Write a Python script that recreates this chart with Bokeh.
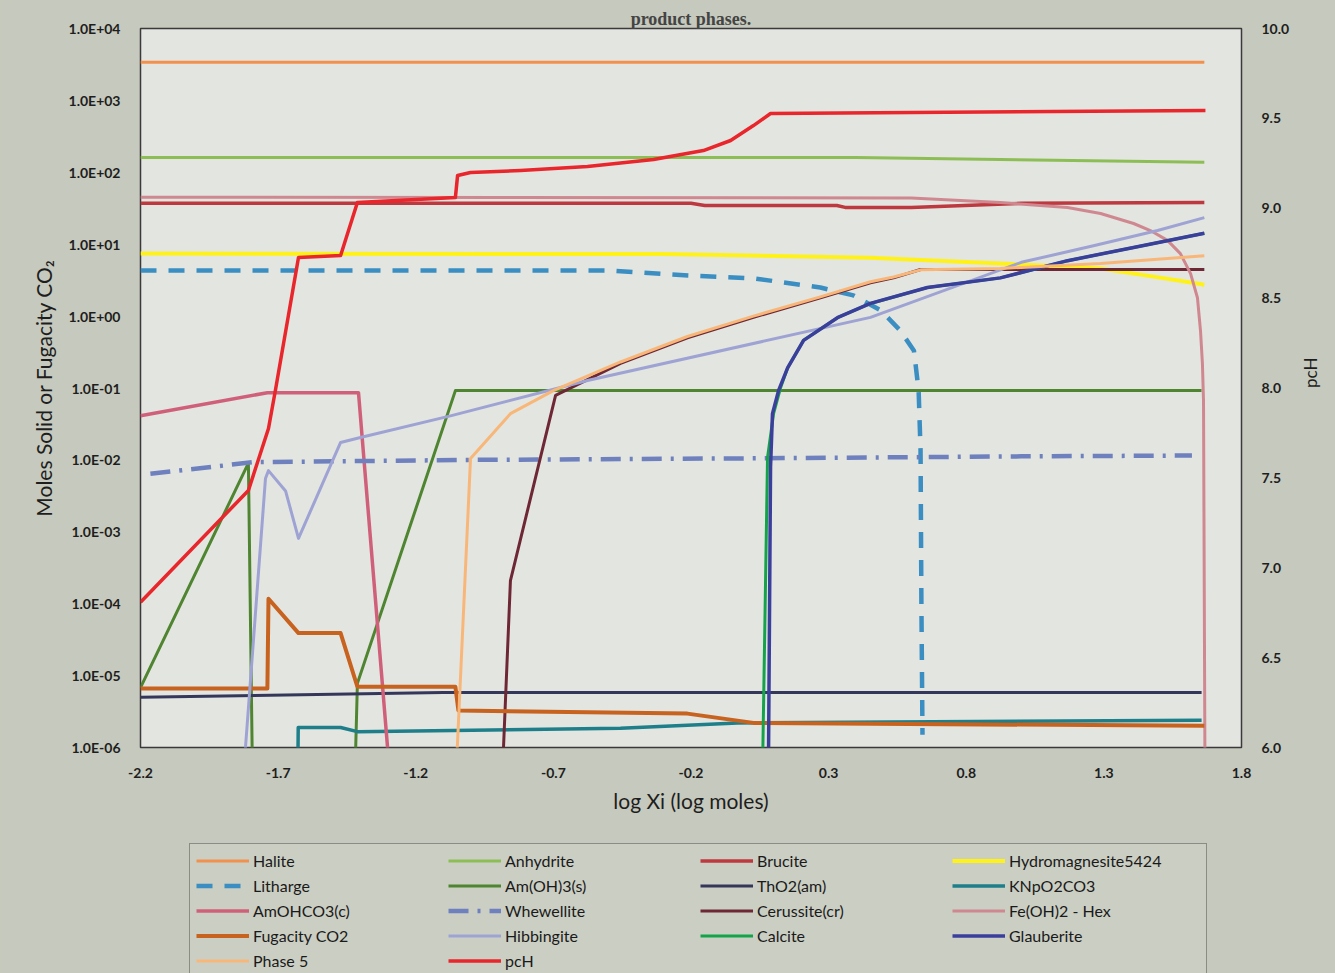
import math
from bokeh.plotting import figure
from bokeh.layouts import column
from bokeh.models import (Range1d, LinearAxis, LinearScale, FixedTicker, CustomJSTickFormatter,
                          PrintfTickFormatter, Legend, LegendItem)
from bokeh.embed import file_html
from bokeh.resources import INLINE

# ---------------- data ----------------
x_ticks = [-2.2, -1.7, -1.2, -0.7, -0.2, 0.3, 0.8, 1.3, 1.8]
y_ticks = [1e-6, 1e-5, 1e-4, 1e-3, 1e-2, 1e-1, 1e0, 1e1, 1e2, 1e3, 1e4]
pch_ticks = [6.0, 6.5, 7.0, 7.5, 8.0, 8.5, 9.0, 9.5, 10.0]

halite_x = [-2.2, 1.665]
halite_y = [3400, 3400]

anhydrite_x = [-2.2, 0.4, 1.665]
anhydrite_y = [160, 160, 138]

brucite_x = [-2.2, -0.2, -0.15, 0.33, 0.36, 0.6, 1.0, 1.665]
brucite_y = [37, 37, 34.5, 34.5, 32.5, 32.5, 37, 38]

hydromag_x = [-2.2, -0.3, 0.45, 0.924, 1.288, 1.469, 1.651, 1.665]
hydromag_y = [7.4, 7.3, 6.5, 5.4, 4.6, 3.6, 2.8, 2.7]

litharge_x = [-2.2, -0.49, -0.21, 0.03, 0.27, 0.39, 0.49, 0.56, 0.61, 0.627, 0.634, 0.637, 0.641]
litharge_y = [4.3, 4.3, 3.67, 3.34, 2.5, 1.94, 1.2, 0.63, 0.33, 0.092, 0.0135, 1.1e-4, 1.5e-6]

amoh3_x = [-2.2, -1.808, -1.791, -1.425, -1.412, -1.056, 1.655]
amoh3_y = [6.8e-6, 9.0e-3, 1e-7, 1e-7, 7.8e-6, 0.092, 0.092]

tho2_x = [-2.2, -1.1, 1.655]
tho2_y = [5.0e-6, 5.8e-6, 5.8e-6]

knpo2co3_x = [-1.630, -1.627, -1.473, -1.412, -0.456, -0.031, 1.655]
knpo2co3_y = [1e-7, 1.9e-6, 1.9e-6, 1.66e-6, 1.85e-6, 2.2e-6, 2.4e-6]

amohco3_x = [-2.2, -1.739, -1.408, -1.281]
amohco3_y = [0.041, 0.086, 0.086, 1e-7]

whewellite_x = [-2.164, -1.79, -1.0, 0.0, 1.0, 1.62]
whewellite_y = [6.4e-3, 9.3e-3, 1.0e-2, 1.05e-2, 1.12e-2, 1.15e-2]

cerussite_x = [-0.892, -0.856, -0.692, -0.456, -0.213, 0.027, 0.270, 0.452, 0.536, 0.634, 1.665]
cerussite_y = [1e-7, 2.1e-4, 0.079, 0.22, 0.50, 0.96, 1.8, 2.9, 3.4, 4.45, 4.45]

feoh2_x = [-2.2, 0.6, 0.924, 1.168, 1.288, 1.408, 1.469, 1.531, 1.578, 1.615, 1.640, 1.651, 1.658, 1.662, 1.668]
feoh2_y = [45, 44, 38, 32.4, 26.7, 19.4, 15.5, 11.3, 7.4, 3.9, 1.8, 0.63, 0.22, 0.067, 1e-7]

fugacity_x = [-2.2, -1.739, -1.735, -1.626, -1.473, -1.412, -1.056, -1.045, -0.213, 0.027, 1.665]
fugacity_y = [6.6e-6, 6.6e-6, 1.17e-4, 3.9e-5, 3.9e-5, 7.0e-6, 7.0e-6, 3.27e-6, 2.96e-6, 2.2e-6, 2.0e-6]

hibbingite_x = [-1.838, -1.746, -1.735, -1.673, -1.626, -1.473, -1.401, -1.074, -0.576, 0.452, 1.0, 1.262, 1.495, 1.665]
hibbingite_y = [1e-7, 5.5e-3, 7.1e-3, 3.7e-3, 8.1e-4, 0.0175, 0.0205, 0.041, 0.127, 0.96, 5.6, 9.5, 15.5, 23.4]

calcite_x = [0.057, 0.078, 0.100, 0.125, 0.151, 0.209, 0.332, 0.452, 0.659, 0.924, 1.168, 1.408, 1.665]
calcite_y = [1e-7, 0.0107, 0.044, 0.10, 0.19, 0.46, 0.95, 1.5, 2.5, 3.4, 5.9, 9.0, 14.2]

glauberite_x = [0.080, 0.089, 0.096, 0.118, 0.151, 0.209, 0.332, 0.452, 0.659, 0.924, 1.168, 1.408, 1.665]
glauberite_y = [1e-7, 8e-3, 0.044, 0.092, 0.19, 0.46, 0.95, 1.5, 2.5, 3.4, 5.9, 9.0, 14.2]

phase5_x = [-1.061, -1.001, -0.856, -0.700, -0.456, -0.213, 0.027, 0.270, 0.452, 0.536, 0.634, 0.924, 1.288, 1.665]
phase5_y = [1e-7, 0.0105, 0.044, 0.092, 0.23, 0.52, 1.0, 1.85, 3.0, 3.5, 4.4, 4.6, 5.4, 6.9]

pch_x = [-2.2, -1.808, -1.735, -1.710, -1.626, -1.473, -1.412, -1.056, -1.048, -1.001,
         -0.819, -0.576, -0.336, -0.155, -0.056, 0.027, 0.089, 1.669]
pch_y = [6.808, 7.430, 7.775, 7.986, 8.726, 8.737, 9.032, 9.060, 9.182, 9.199,
         9.210, 9.232, 9.271, 9.321, 9.377, 9.460, 9.527, 9.544]

# (label, x, y, colour, width, dash, on pcH axis)
series = [
    ("Halite", halite_x, halite_y, "#F2914E", 3, "solid", False),
    ("Anhydrite", anhydrite_x, anhydrite_y, "#8DBE55", 3, "solid", False),
    ("Brucite", brucite_x, brucite_y, "#BE383F", 3.5, "solid", False),
    ("Hydromagnesite5424", hydromag_x, hydromag_y, "#FFF21A", 4, "solid", False),
    ("Litharge", litharge_x, litharge_y, "#3B8EC2", 4.5, "16 12", False),
    ("Am(OH)3(s)", amoh3_x, amoh3_y, "#4F8530", 3, "solid", False),
    ("ThO2(am)", tho2_x, tho2_y, "#34375A", 3, "solid", False),
    ("KNpO2CO3", knpo2co3_x, knpo2co3_y, "#1E7F8A", 3.5, "solid", False),
    ("AmOHCO3(c)", amohco3_x, amohco3_y, "#D0607A", 3.5, "solid", False),
    ("Whewellite", whewellite_x, whewellite_y, "#6F80BE", 4.5, "20 9 3 9", False),
    ("Cerussite(cr)", cerussite_x, cerussite_y, "#6E2735", 3, "solid", False),
    ("Fe(OH)2 - Hex", feoh2_x, feoh2_y, "#D08890", 3, "solid", False),
    ("Fugacity CO2", fugacity_x, fugacity_y, "#C8621F", 4, "solid", False),
    ("Hibbingite", hibbingite_x, hibbingite_y, "#9EA3D4", 3, "solid", False),
    ("Calcite", calcite_x, calcite_y, "#14A34A", 3, "solid", False),
    ("Glauberite", glauberite_x, glauberite_y, "#3B3F9C", 3.5, "solid", False),
    ("Phase 5", phase5_x, phase5_y, "#F8B779", 3, "solid", False),
    ("pcH", pch_x, pch_y, "#E8262B", 3.5, "solid", True),
]

page_bg = "#C6C9BD"
plot_bg = "#E3E5E0"
FONT = "Lato"
MAIN_H = 838
LEG_H = 135

p = figure(width=1335, height=MAIN_H,
           x_range=Range1d(-2.2, 1.8), y_range=Range1d(1e-6, 1e4),
           y_axis_type="log", output_backend="svg", toolbar_location=None,
           min_border_left=140, min_border_right=94, min_border_top=28,
           min_border_bottom=MAIN_H - 747,
           background_fill_color=plot_bg, border_fill_color=page_bg,
           styles={"background-color": page_bg})
p.extra_y_ranges = {"pch": Range1d(6.0, 10.0)}
p.extra_y_scales = {"pch": LinearScale()}

p.title.text = "product phases."
p.title.align = "center"
p.title.text_font = "Liberation Serif"
p.title.text_font_size = "18px"
p.title.text_font_style = "bold"
p.title.standoff = 0
p.title.offset = 0

p.outline_line_color = "#3a3a3a"
p.outline_line_width = 1.5
p.grid.grid_line_color = None

# left axis
ya = p.yaxis[0]
ya.ticker = FixedTicker(ticks=y_ticks)
ya.formatter = CustomJSTickFormatter(code="""
const e = Math.round(Math.log10(tick));
const s = e < 0 ? "-" : "+";
const a = Math.abs(e);
return "1.0E" + s + (a < 10 ? "0" + a : "" + a);
""")
ya.axis_label = "Moles Solid or Fugacity CO\u2082"

# bottom axis
xa = p.xaxis[0]
xa.ticker = FixedTicker(ticks=x_ticks)
xa.formatter = PrintfTickFormatter(format="%.1f")
xa.axis_label = "log Xi (log moles)"

# right axis (linear pcH scale)
ra = LinearAxis(y_range_name="pch", ticker=FixedTicker(ticks=pch_ticks),
                formatter=PrintfTickFormatter(format="%.1f"), axis_label="pcH")
p.add_layout(ra, "right")

for ax in [ya, xa, ra]:
    ax.axis_line_color = None
    ax.major_tick_line_color = None
    ax.minor_tick_line_color = None
    ax.major_label_text_font = FONT
    ax.major_label_text_font_size = "14px"
    ax.major_label_text_font_style = "bold"
    ax.major_label_text_color = "#1e1e1e"
    ax.major_label_standoff = 14
    ax.axis_label_text_font = FONT
    ax.axis_label_text_font_size = "21px"
    ax.axis_label_text_font_style = "normal"
    ax.axis_label_text_color = "#1e1e1e"
ra.axis_label_text_font_size = "17px"
ra.axis_label_orientation = math.pi / 2
ra.axis_label_standoff = 18
xa.axis_label_standoff = 7
ya.axis_label_standoff = 10

# legend strip below the chart (its copies of the lines lie outside its ranges)
lp = figure(width=1335, height=LEG_H, x_range=Range1d(10, 11), y_range=Range1d(10, 11),
            output_backend="svg", toolbar_location=None, title=None,
            x_axis_location=None, y_axis_location=None, min_border=0,
            background_fill_color=page_bg, border_fill_color=page_bg,
            styles={"background-color": page_bg})
lp.outline_line_color = page_bg
lp.outline_line_width = 4
lp.grid.visible = False

items = []
for label, xs, ys, col, w, dash, on_pch in series:
    kw = {"y_range_name": "pch"} if on_pch else {}
    p.line(xs, ys, line_color=col, line_width=w, line_dash=dash,
           line_join="round", **kw)
    r2 = lp.line(xs, ys, line_color=col, line_width=w, line_dash=dash)
    items.append(LegendItem(label=label, renderers=[r2]))

legend = Legend(items=items, location=(49, -5), orientation="horizontal", ncols=4,
                background_fill_color="#CBCEC3", background_fill_alpha=1.0,
                border_line_color="#4a4a4a", border_line_width=1.5,
                label_text_font=FONT, label_text_font_size="16px",
                label_text_color="#1a1a1a",
                glyph_width=53, glyph_height=21, label_height=21,
                label_standoff=4, spacing=4, padding=6, label_width=191,
                margin=0)
lp.add_layout(legend, "center")

layout = column(p, lp, spacing=0, styles={"background-color": page_bg})
open("out.html", "w").write(file_html(layout, INLINE))
